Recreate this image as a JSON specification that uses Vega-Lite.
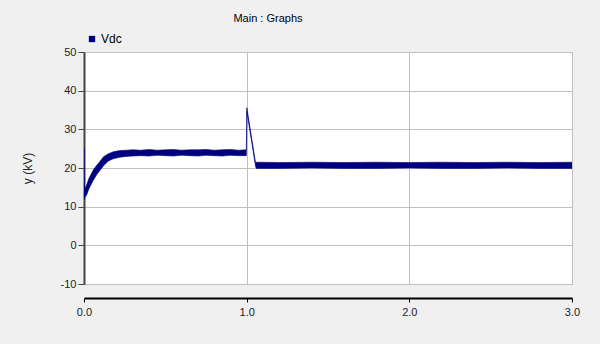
{
  "$schema": "https://vega.github.io/schema/vega-lite/v6.json",
  "width": 488,
  "height": 232,
  "autosize": "none",
  "padding": {"left": 84, "top": 52, "right": 28, "bottom": 60},
  "background": "#f0f0f0",
  "title": {"text": "Main : Graphs", "font": "Liberation Sans", "fontSize": 11, "fontWeight": "normal", "color": "#000000", "anchor": "middle", "frame": "group", "dx": -60, "offset": 9},
  "config": {
    "view": {"fill": "#ffffff", "stroke": "#a0a0a0", "strokeWidth": 1},
    "axis": {"labelFont": "Liberation Sans", "labelFontSize": 11, "labelColor": "#222222", "titleFont": "Liberation Sans", "titleFontSize": 12, "titleFontWeight": "normal", "titleColor": "#222222", "gridColor": "#c0c0c0", "gridWidth": 1, "gridOpacity": 1, "domainColor": "#444444", "tickColor": "#444444"}
  },
  "data": {"values": [
    {"t": 0.0, "lo": 11.7, "hi": 25.2, "s": "Vdc"},
    {"t": 0.003, "lo": 12.3, "hi": 14.3, "s": "Vdc"},
    {"t": 0.016, "lo": 13.0, "hi": 15.6, "s": "Vdc"},
    {"t": 0.03, "lo": 14.6, "hi": 17.3, "s": "Vdc"},
    {"t": 0.057, "lo": 16.8, "hi": 19.5, "s": "Vdc"},
    {"t": 0.08, "lo": 18.4, "hi": 20.8, "s": "Vdc"},
    {"t": 0.1, "lo": 19.5, "hi": 21.8, "s": "Vdc"},
    {"t": 0.12, "lo": 20.6, "hi": 22.9, "s": "Vdc"},
    {"t": 0.15, "lo": 21.8, "hi": 23.7, "s": "Vdc"},
    {"t": 0.18, "lo": 22.4, "hi": 24.2, "s": "Vdc"},
    {"t": 0.22, "lo": 22.8, "hi": 24.5, "s": "Vdc"},
    {"t": 0.26, "lo": 23.0, "hi": 24.6, "s": "Vdc"},
    {"t": 0.3, "lo": 23.1, "hi": 24.7, "s": "Vdc"},
    {"t": 0.35, "lo": 23.2, "hi": 24.6, "s": "Vdc"},
    {"t": 0.4, "lo": 23.1, "hi": 24.8, "s": "Vdc"},
    {"t": 0.45, "lo": 23.3, "hi": 24.6, "s": "Vdc"},
    {"t": 0.5, "lo": 23.2, "hi": 24.7, "s": "Vdc"},
    {"t": 0.55, "lo": 23.1, "hi": 24.8, "s": "Vdc"},
    {"t": 0.6, "lo": 23.3, "hi": 24.6, "s": "Vdc"},
    {"t": 0.65, "lo": 23.2, "hi": 24.7, "s": "Vdc"},
    {"t": 0.7, "lo": 23.1, "hi": 24.7, "s": "Vdc"},
    {"t": 0.75, "lo": 23.3, "hi": 24.8, "s": "Vdc"},
    {"t": 0.8, "lo": 23.2, "hi": 24.6, "s": "Vdc"},
    {"t": 0.85, "lo": 23.1, "hi": 24.7, "s": "Vdc"},
    {"t": 0.9, "lo": 23.3, "hi": 24.8, "s": "Vdc"},
    {"t": 0.95, "lo": 23.2, "hi": 24.6, "s": "Vdc"},
    {"t": 0.998, "lo": 23.2, "hi": 24.7, "s": "Vdc"},
    {"t": 1.001, "lo": 34.6, "hi": 35.6, "s": "Vdc"},
    {"t": 1.055, "lo": 20.3, "hi": 21.3, "s": "Vdc"},
    {"t": 1.06, "lo": 19.9, "hi": 21.5, "s": "Vdc"},
    {"t": 1.2, "lo": 19.9, "hi": 21.4, "s": "Vdc"},
    {"t": 1.4, "lo": 20.0, "hi": 21.5, "s": "Vdc"},
    {"t": 1.6, "lo": 19.9, "hi": 21.4, "s": "Vdc"},
    {"t": 1.8, "lo": 19.9, "hi": 21.5, "s": "Vdc"},
    {"t": 2.0, "lo": 20.0, "hi": 21.4, "s": "Vdc"},
    {"t": 2.2, "lo": 19.9, "hi": 21.5, "s": "Vdc"},
    {"t": 2.4, "lo": 19.9, "hi": 21.4, "s": "Vdc"},
    {"t": 2.6, "lo": 20.0, "hi": 21.5, "s": "Vdc"},
    {"t": 2.8, "lo": 19.9, "hi": 21.4, "s": "Vdc"},
    {"t": 3.0, "lo": 19.9, "hi": 21.5, "s": "Vdc"}
  ]},
  "mark": {"type": "area", "interpolate": "linear", "clip": true, "stroke": "#000080", "strokeWidth": 0.6},
  "encoding": {
    "x": {"field": "t", "type": "quantitative", "scale": {"domain": [0, 3], "nice": false, "zero": false},
      "axis": {"values": [0, 1, 2, 3], "format": ".1f", "title": null, "offset": 14, "labelFlush": false, "domainColor": "#000000", "domainWidth": 2, "tickColor": "#000000", "tickSize": 4, "labelPadding": 4, "gridColor": "#c0c0c0", "grid": true}},
    "y": {"field": "lo", "type": "quantitative", "scale": {"domain": [-10, 50], "nice": false, "zero": false},
      "axis": {"values": [-10, 0, 10, 20, 30, 40, 50], "labelExpr": "replace(datum.label, '\u2212', '-')", "title": "y (kV)", "titlePadding": 26, "tickSize": 6, "labelPadding": 2, "domainWidth": 2}},
    "y2": {"field": "hi"},
    "color": {"field": "s", "type": "nominal", "scale": {"domain": ["Vdc"], "range": ["#000080"]},
      "legend": {"title": null, "orient": "none", "legendX": 2, "legendY": -19, "symbolType": "square", "symbolSize": 40, "symbolStrokeWidth": 0, "labelFont": "Liberation Sans", "labelFontSize": 12, "labelColor": "#000000", "labelOffset": 3}}
  }
}
